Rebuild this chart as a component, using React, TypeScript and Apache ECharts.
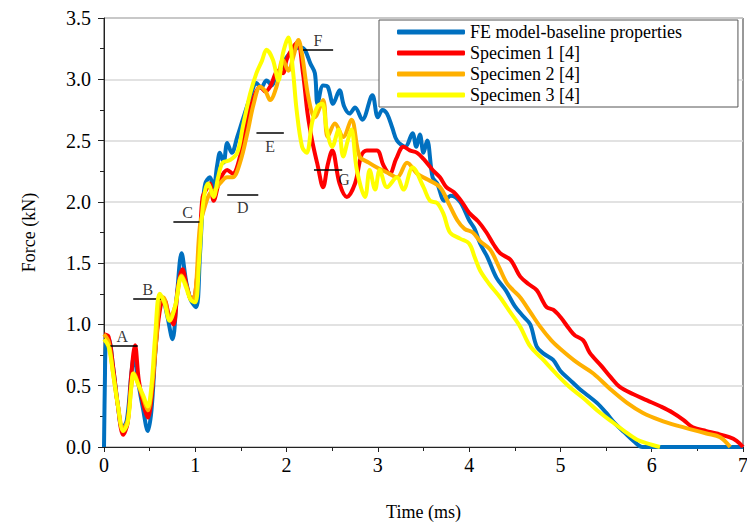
import React, { useEffect, useRef } from "react";
import * as echarts from "echarts";

const seriesNames = [
  "FE model-baseline properties",
  "Specimen 1 [4]",
  "Specimen 2 [4]",
  "Specimen 3 [4]",
];
const seriesColors = ["#0070C0", "#FF0000", "#FFB000", "#FFFF00"];

const feData = [
  [0, 0], [0.01, 0.55], [0.02, 0.85], [0.05, 0.88], [0.1, 0.65], [0.15, 0.35], [0.2, 0.15], [0.25, 0.22],
  [0.3, 0.6], [0.33, 0.75], [0.37, 0.55], [0.43, 0.3], [0.48, 0.13], [0.52, 0.3], [0.56, 0.75], [0.6, 1.1],
  [0.64, 1.22], [0.69, 1.08], [0.75, 0.88], [0.8, 1.25], [0.85, 1.58], [0.9, 1.35], [0.95, 1.2], [1.01, 1.14],
  [1.05, 1.55], [1.08, 1.95], [1.11, 2.15], [1.16, 2.2], [1.2, 2.12], [1.24, 2.3], [1.27, 2.4], [1.31, 2.32],
  [1.35, 2.48], [1.4, 2.4], [1.46, 2.53], [1.52, 2.67], [1.6, 2.85], [1.67, 2.97], [1.72, 2.93], [1.78, 2.99],
  [1.84, 2.95], [1.89, 3.05], [1.95, 3.1], [2.0, 3.18], [2.05, 3.22], [2.1, 3.25], [2.15, 3.26], [2.2, 3.24],
  [2.26, 3.13], [2.31, 3.05], [2.34, 2.8], [2.4, 2.95], [2.45, 2.94], [2.51, 2.8], [2.58, 2.91], [2.63, 2.78],
  [2.69, 2.72], [2.75, 2.77], [2.83, 2.67], [2.94, 2.87], [3.0, 2.69], [3.05, 2.75], [3.1, 2.72], [3.16, 2.6],
  [3.21, 2.5], [3.3, 2.45], [3.38, 2.56], [3.42, 2.45], [3.46, 2.55], [3.5, 2.4], [3.54, 2.5], [3.6, 2.2],
  [3.65, 2.15], [3.73, 2.01], [3.8, 2.05], [3.9, 2.0], [4.0, 1.85], [4.06, 1.78], [4.12, 1.66], [4.2, 1.55],
  [4.3, 1.38], [4.4, 1.28], [4.5, 1.15], [4.6, 1.06], [4.67, 1.0], [4.74, 0.82], [4.82, 0.76], [4.92, 0.71],
  [5.0, 0.62], [5.1, 0.55], [5.2, 0.48], [5.3, 0.42], [5.4, 0.36], [5.5, 0.28], [5.6, 0.19], [5.7, 0.12],
  [5.8, 0.05], [5.9, 0.0], [7.0, 0.0],
];

const specimen1Data = [
  [0, 0.92], [0.05, 0.9], [0.1, 0.65], [0.15, 0.35], [0.21, 0.1], [0.26, 0.2], [0.3, 0.6], [0.34, 0.83],
  [0.38, 0.55], [0.43, 0.35], [0.48, 0.24], [0.52, 0.4], [0.57, 0.85], [0.62, 1.15], [0.66, 1.2], [0.71, 1.08],
  [0.76, 1.0], [0.81, 1.3], [0.86, 1.45], [0.91, 1.3], [0.96, 1.2], [1.0, 1.25], [1.05, 1.7], [1.08, 2.04],
  [1.12, 2.1], [1.16, 2.15], [1.2, 2.01], [1.27, 2.18], [1.35, 2.26], [1.41, 2.23], [1.49, 2.37], [1.57, 2.67],
  [1.64, 2.85], [1.71, 2.94], [1.77, 2.9], [1.82, 2.94], [1.91, 3.07], [1.96, 3.05], [2.0, 3.16], [2.07, 3.26],
  [2.12, 3.3], [2.18, 3.05], [2.23, 2.72], [2.28, 2.5], [2.34, 2.3], [2.4, 2.12], [2.45, 2.3], [2.5, 2.42],
  [2.58, 2.15], [2.66, 2.04], [2.75, 2.15], [2.82, 2.38], [2.88, 2.42], [2.99, 2.42], [3.06, 2.3], [3.13, 2.23],
  [3.2, 2.35], [3.28, 2.45], [3.35, 2.42], [3.43, 2.4], [3.5, 2.35], [3.6, 2.26], [3.68, 2.2], [3.75, 2.12],
  [3.83, 2.08], [3.92, 2.0], [4.0, 1.91], [4.1, 1.84], [4.19, 1.75], [4.27, 1.65], [4.34, 1.58], [4.45, 1.53],
  [4.5, 1.47], [4.56, 1.39], [4.65, 1.33], [4.74, 1.28], [4.8, 1.2], [4.85, 1.14], [4.92, 1.12], [5.0, 1.06],
  [5.1, 0.96], [5.16, 0.91], [5.25, 0.87], [5.32, 0.77], [5.45, 0.66], [5.55, 0.57], [5.65, 0.49], [5.8, 0.43],
  [5.95, 0.38], [6.1, 0.33], [6.23, 0.28], [6.35, 0.22], [6.45, 0.16], [6.6, 0.13], [6.71, 0.11], [6.85, 0.08],
  [6.93, 0.05], [7.0, 0.0],
];

const specimen2Data = [
  [0, 0.92], [0.05, 0.86], [0.1, 0.6], [0.15, 0.35], [0.21, 0.15], [0.26, 0.22], [0.3, 0.5], [0.33, 0.6],
  [0.38, 0.5], [0.43, 0.4], [0.48, 0.3], [0.52, 0.45], [0.57, 0.85], [0.61, 1.2], [0.65, 1.22], [0.72, 1.05],
  [0.78, 1.15], [0.85, 1.4], [0.9, 1.32], [0.96, 1.2], [1.0, 1.25], [1.05, 1.8], [1.1, 1.95], [1.16, 2.07],
  [1.22, 2.1], [1.27, 2.15], [1.35, 2.2], [1.41, 2.2], [1.49, 2.32], [1.57, 2.56], [1.64, 2.8], [1.71, 2.94],
  [1.77, 2.9], [1.82, 2.83], [1.89, 2.94], [1.96, 3.16], [2.02, 3.07], [2.08, 3.2], [2.13, 3.32], [2.17, 3.2],
  [2.24, 2.85], [2.31, 2.69], [2.4, 2.83], [2.45, 2.53], [2.53, 2.64], [2.62, 2.53], [2.71, 2.67], [2.8, 2.37],
  [2.9, 2.32], [2.99, 2.28], [3.1, 2.24], [3.21, 2.2], [3.32, 2.32], [3.43, 2.23], [3.55, 2.18], [3.68, 2.12],
  [3.78, 1.98], [3.87, 1.85], [3.95, 1.78], [4.04, 1.75], [4.12, 1.68], [4.23, 1.61], [4.32, 1.48], [4.41, 1.34],
  [4.48, 1.28], [4.56, 1.22], [4.67, 1.1], [4.78, 0.98], [4.9, 0.87], [5.0, 0.8], [5.18, 0.69], [5.36, 0.6],
  [5.55, 0.47], [5.73, 0.36], [5.9, 0.28], [6.09, 0.22], [6.3, 0.17], [6.45, 0.14], [6.6, 0.11], [6.75, 0.08],
  [6.86, 0.0],
];

const specimen3Data = [
  [0, 0.88], [0.05, 0.82], [0.1, 0.6], [0.15, 0.35], [0.21, 0.13], [0.26, 0.2], [0.3, 0.5], [0.32, 0.6],
  [0.37, 0.52], [0.43, 0.42], [0.48, 0.33], [0.52, 0.5], [0.56, 0.9], [0.61, 1.25], [0.66, 1.18], [0.72, 1.03],
  [0.78, 1.15], [0.85, 1.39], [0.9, 1.3], [0.95, 1.2], [1.0, 1.18], [1.04, 1.5], [1.08, 1.95], [1.11, 2.1],
  [1.14, 2.15], [1.2, 2.04], [1.25, 2.2], [1.3, 2.32], [1.38, 2.34], [1.46, 2.4], [1.52, 2.61], [1.6, 2.88],
  [1.67, 3.05], [1.73, 3.15], [1.78, 3.24], [1.85, 3.16], [1.91, 2.99], [1.96, 3.21], [2.02, 3.34], [2.07, 3.07],
  [2.11, 2.75], [2.17, 2.45], [2.22, 2.4], [2.28, 2.65], [2.34, 2.78], [2.39, 2.8], [2.44, 2.59], [2.5, 2.45],
  [2.57, 2.59], [2.62, 2.37], [2.67, 2.5], [2.71, 2.59], [2.77, 2.26], [2.86, 2.04], [2.91, 2.26], [2.97, 2.1],
  [3.02, 2.26], [3.1, 2.12], [3.21, 2.2], [3.28, 2.1], [3.38, 2.28], [3.5, 2.12], [3.57, 2.01], [3.65, 1.99],
  [3.72, 1.9], [3.79, 1.75], [3.9, 1.7], [4.0, 1.66], [4.06, 1.55], [4.12, 1.44], [4.22, 1.33], [4.34, 1.22],
  [4.45, 1.1], [4.56, 0.98], [4.67, 0.82], [4.8, 0.72], [4.95, 0.6], [5.1, 0.49], [5.25, 0.4], [5.4, 0.3],
  [5.54, 0.22], [5.7, 0.13], [5.84, 0.06], [5.95, 0.03], [6.09, 0.0],
];

const annotLetters = ["A", "B", "C", "D", "E", "F", "G"];
const annotStart = [0.03, 0.32, 0.76, 1.35, 1.67, 2.18, 2.3];
const annotEnd = [0.37, 0.64, 1.07, 1.69, 1.97, 2.51, 2.61];
const annotLevel = [0.83, 1.21, 1.84, 2.06, 2.56, 3.24, 2.26];
const annotSide = ["top", "top", "top", "bottom", "bottom", "top", "right"];

const xTicks = [0, 1, 2, 3, 4, 5, 6, 7];
const yTicks = [0, 0.5, 1, 1.5, 2, 2.5, 3, 3.5];

const FONT = "Liberation Serif";

export default function App() {
  const ref = useRef<HTMLDivElement>(null);
  useEffect(() => {
    if (!ref.current) return;
    const chart = echarts.init(ref.current, undefined, { renderer: "svg" });
    const allData = [feData, specimen1Data, specimen2Data, specimen3Data];
    const lineSeries = allData.map((d, i) => ({
      name: seriesNames[i],
      type: "line",
      data: d,
      smooth: 0.35,
      showSymbol: false,
      symbol: "none",
      lineStyle: { color: seriesColors[i], width: 4 },
      itemStyle: { color: seriesColors[i] },
      z: 2 + i,
    }));
    const segLines = annotLetters.map((_, i) => [
      { coord: [annotStart[i], annotLevel[i]] },
      { coord: [annotEnd[i], annotLevel[i]] },
    ]);
    const labelPoints = annotLetters.map((l, i) => {
      const side = annotSide[i];
      const x = side === "right" ? annotEnd[i] : (annotStart[i] + annotEnd[i]) / 2;
      return {
        value: [x, annotLevel[i]],
        label: {
          show: true,
          formatter: l,
          position: side === "right" ? "right" : side,
          distance: side === "bottom" ? 5 : side === "right" ? -4 : 1,
          offset: side === "right" ? [0, 10] : [0, 0],
        },
      };
    });
    chart.setOption({
      animation: false,
      backgroundColor: "#fff",
      textStyle: { fontFamily: FONT },
      grid: {
        left: 104,
        right: 4,
        top: 18,
        bottom: 80,
        show: true,
        borderColor: "#333",
        borderWidth: 1,
        outerBoundsMode: "none",
      },
      legend: {
        data: seriesNames,
        orient: "vertical",
        left: 379,
        top: 20,
        padding: [3, 56, 3, 18],
        itemGap: 3,
        itemWidth: 68,
        itemHeight: 5,
        icon: "roundRect",
        backgroundColor: "#fff",
        borderColor: "#555",
        borderWidth: 1,
        borderRadius: 0,
        textStyle: { fontFamily: FONT, fontSize: 18, color: "#000" },
      },
      xAxis: {
        type: "value",
        min: 0,
        max: 7,
        interval: 1,
        name: "Time (ms)",
        nameLocation: "middle",
        nameGap: 56,
        nameTextStyle: { fontFamily: FONT, fontSize: 18, color: "#000" },
        axisLine: { show: true, lineStyle: { color: "#222", width: 1 } },
        axisTick: { show: true, length: 5, lineStyle: { color: "#222" } },
        minorTick: { show: true, splitNumber: 2, length: 4, lineStyle: { color: "#222" } },
        axisLabel: {
          fontFamily: FONT,
          fontSize: 20,
          color: "#000",
          margin: 8,
          formatter: (v: number) => (xTicks.includes(v) ? String(v) : ""),
        },
        splitLine: { show: false },
      },
      yAxis: {
        type: "value",
        min: 0,
        max: 3.5,
        interval: 0.5,
        name: "Force (kN)",
        nameLocation: "middle",
        nameGap: 66,
        nameRotate: 90,
        nameTextStyle: { fontFamily: FONT, fontSize: 18, color: "#000" },
        axisLine: { show: true, lineStyle: { color: "#222", width: 1 } },
        axisTick: { show: true, length: 6, lineStyle: { color: "#222" } },
        minorTick: { show: true, splitNumber: 2, length: 4, lineStyle: { color: "#222" } },
        axisLabel: {
          fontFamily: FONT,
          fontSize: 20,
          color: "#000",
          margin: 13,
          formatter: (v: number) => (yTicks.includes(v) ? v.toFixed(1) : ""),
        },
        splitLine: { show: true, lineStyle: { color: "#d9d9d9", width: 1.5 } },
      },
      series: [
        ...lineSeries,
        {
          name: "annotations",
          type: "scatter",
          data: labelPoints,
          symbolSize: 0,
          silent: true,
          z: 10,
          label: { fontFamily: FONT, fontSize: 16, color: "#000" },
          markLine: {
            silent: true,
            symbol: "none",
            label: { show: false },
            lineStyle: { color: "#000", width: 1.5, type: "solid" },
            data: segLines,
          },
        },
      ],
    });
    return () => chart.dispose();
  }, []);
  return (
    <div
      ref={ref}
      style={{ position: "fixed", left: 0, top: 0, width: 747, height: 527 }}
    />
  );
}
